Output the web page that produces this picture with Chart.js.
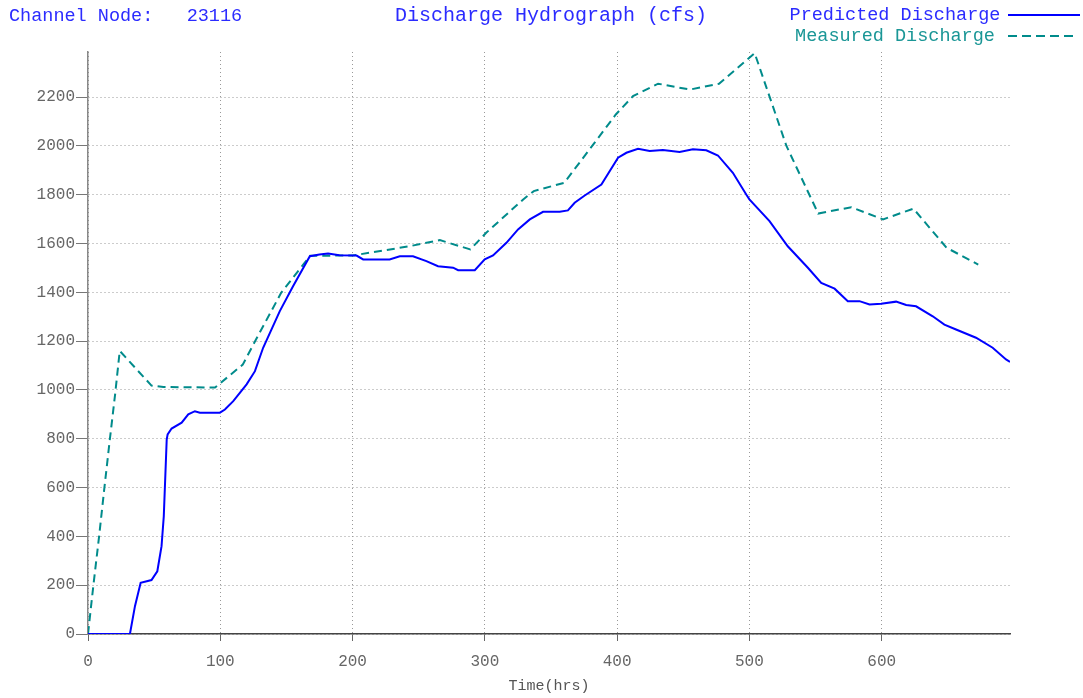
<!DOCTYPE html>
<html>
<head>
<meta charset="utf-8">
<script src="https://cdn.jsdelivr.net/npm/chart.js@4/dist/chart.umd.min.js"></script>
<style>
  html, body { margin: 0; padding: 0; background: #fff; }
  #wrap { position: relative; width: 1083px; height: 698px; }
</style>
</head>
<body>
<div id="wrap"><canvas id="chart"></canvas></div>
<script>
const nodeLabel = "Channel Node:   23116";
const chartTitle = "Discharge Hydrograph (cfs)";
const axisTitle = "Time(hrs)";

// predicted discharge (cfs) vs time (hrs)
const predTime = [
  0, 31.7, 35.5, 39.8, 48, 52.4, 55.6, 57.3, 59.5, 60.2,
  63.2, 70.8, 75.8, 80.8, 84.6, 99.7, 103.5, 109.8, 119.9, 126.2,
  132.4, 145, 155, 167.7, 175, 181.5, 190, 203, 208, 228,
  235.7, 245.7, 255.8, 264.6, 276, 279.8, 292.4, 299.9, 306.2, 316.3,
  325.1, 334, 344, 356.6, 362.8, 367.9, 375.5, 388.1, 400.7, 407,
  415.8, 424.6, 434.6, 447.2, 457.3, 467.4, 476.2, 487.5, 497.6, 500,
  515.2, 529, 544.2, 554.3, 564.4, 574.4, 583.2, 590.8, 599.6, 610.9,
  618.5, 626, 638.6, 647.4, 656.2, 671.3, 683.9, 694, 697
];
const predFlow = [
  0, 0, 114, 210, 221, 257, 360, 483, 797, 818,
  842, 866, 900, 913, 907, 907, 920, 954, 1023, 1077,
  1173, 1323, 1425, 1548, 1555, 1559, 1552, 1551, 1535, 1535,
  1548, 1548, 1528, 1507, 1501, 1491, 1491, 1535, 1551, 1603,
  1658, 1699, 1730, 1730, 1736, 1767, 1797, 1842, 1952, 1972,
  1988, 1979, 1983, 1975, 1986, 1982, 1961, 1890, 1801, 1781,
  1692, 1589, 1501, 1439, 1415, 1364, 1364, 1350, 1353, 1362,
  1348, 1343, 1302, 1268, 1248, 1214, 1173, 1125, 1115
];

// measured discharge
const measTime = [
  0, 4, 8.5, 12, 16.5, 20.5, 24, 48, 57, 96,
  117, 127, 146, 168, 200, 243, 266, 289, 301, 329,
  337, 360, 381, 399, 412, 431, 455, 477, 504, 528,
  552, 577, 601, 624, 649, 673
];
const measFlow = [
  0, 196, 405, 580, 797, 982, 1160, 1018, 1012, 1010,
  1104, 1207, 1398, 1550, 1551, 1589, 1614, 1576, 1644, 1781,
  1815, 1849, 1999, 2129, 2204, 2255, 2231, 2255, 2380, 2000,
  1723, 1749, 1699, 1743, 1583, 1514
];

// axis ticks
const xTicks = [0, 100, 200, 300, 400, 500, 600];
const yTicks = [0, 200, 400, 600, 800, 1000, 1200, 1400, 1600, 1800, 2000, 2200];
const xMax = 697;
const yMax = 2385;

const toPoints = (xs, ys) => xs.map((x, i) => ({ x: x, y: ys[i] }));

const MONO = '"Liberation Mono", "Courier New", monospace';

// title, node label and the legend along the top
const headerPlugin = {
  id: "header",
  afterDraw(chart) {
    const ctx = chart.ctx;
    ctx.save();
    ctx.textBaseline = "middle";
    ctx.fillStyle = "#2b2bff";
    ctx.font = "18.5px " + MONO;
    ctx.textAlign = "left";
    ctx.fillText(nodeLabel, 9, 16);
    ctx.font = "20px " + MONO;
    ctx.textAlign = "center";
    ctx.fillText(chartTitle, 551, 16);

    ctx.font = "18.5px " + MONO;
    chart.data.datasets.forEach((ds, i) => {
      const y = 15 + i * 21;
      ctx.fillStyle = ds.textColor;
      ctx.textAlign = "center";
      ctx.fillText(ds.label, 895, y);
      ctx.strokeStyle = ds.borderColor;
      ctx.lineWidth = 2;
      ctx.setLineDash(ds.borderDash ? [9, 5] : []);
      ctx.beginPath();
      ctx.moveTo(1008, y);
      ctx.lineTo(ds.borderDash ? 1073 : 1080, y);
      ctx.stroke();
    });
    ctx.restore();
  }
};

new Chart(document.getElementById("chart"), {
  type: "line",
  data: {
    datasets: [
      {
        label: "Predicted Discharge",
        data: toPoints(predTime, predFlow),
        borderColor: "#0000ff",
        textColor: "#2b2bff",
        borderWidth: 2,
        pointRadius: 0,
        tension: 0
      },
      {
        label: "Measured Discharge",
        data: toPoints(measTime, measFlow),
        borderColor: "#008b8b",
        textColor: "#1a9696",
        borderWidth: 2,
        borderDash: [8, 5],
        pointRadius: 0,
        tension: 0
      }
    ]
  },
  options: {
    responsive: true,
    maintainAspectRatio: false,
    animation: false,
    layout: { padding: { top: 52, right: 73, left: 0, bottom: 0 } },
    plugins: {
      legend: { display: false },
      title: { display: false },
      tooltip: { enabled: false }
    },
    scales: {
      x: {
        type: "linear",
        min: 0,
        max: xMax,
        ticks: {
          autoSkip: false,
          padding: 11,
          maxRotation: 0,
          color: "#666",
          font: { family: MONO, size: 16 },
          callback: v => String(v)
        },
        grid: { color: "#999", tickLength: 7, tickColor: "#666" },
        border: { color: "#444", width: 1.5, dash: [1, 3] },
        title: {
          display: true,
          text: axisTitle,
          color: "#555",
          font: { family: MONO, size: 15 },
          padding: { top: 0, bottom: 3 }
        },
        afterBuildTicks: s => { s.ticks = xTicks.map(v => ({ value: v })); },
        afterFit: s => { s.height = 64; }
      },
      y: {
        min: 0,
        max: yMax,
        ticks: {
          autoSkip: false,
          padding: 1,
          color: "#666",
          font: { family: MONO, size: 16 },
          callback: v => String(v)
        },
        grid: { color: "#999", tickLength: 12, tickColor: "#777" },
        border: { color: "#888", width: 1.5, dash: [1, 3] },
        afterBuildTicks: s => { s.ticks = yTicks.map(v => ({ value: v })); },
        afterFit: s => { s.width = 88; }
      }
    }
  },
  plugins: [headerPlugin]
});
</script>
</body>
</html>
